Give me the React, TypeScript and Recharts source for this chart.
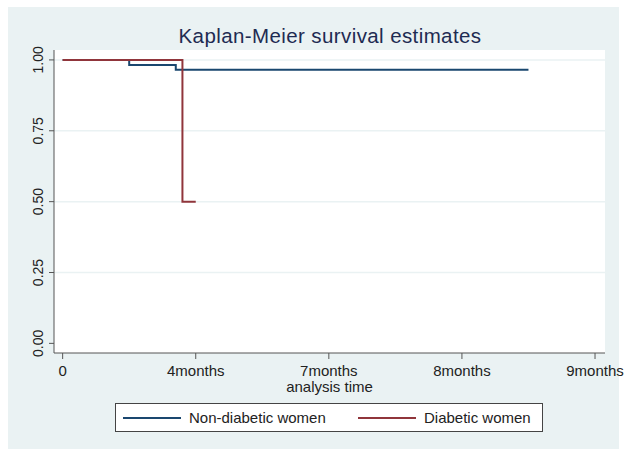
import React from 'react'
import { LineChart, Line, XAxis, YAxis, ReferenceArea, ReferenceLine, Legend } from 'recharts'

// analysis time in tick units (0 = start, 1 = "4months", ...)
const nonDiabeticTime = [0, 0.5, 0.85, 3.5]
const nonDiabeticSurv = [1, 0.982, 0.965, 0.965]
const diabeticTime = [0, 0.9, 1.0]
const diabeticSurv = [1, 0.5, 0.5]

const xTicks = [0, 1, 2, 3, 4]
const xTickLabels = ['0', '4months', '7months', '8months', '9months']
const yTicks = [0, 0.25, 0.5, 0.75, 1]
const gridValues = [0.25, 0.5, 0.75, 1]
const seriesNames = ['Non-diabetic women', 'Diabetic women']
const seriesColors = ['#1a476f', '#90353b']

const X_DOMAIN: [number, number] = [-0.065, 4.075]
const Y_DOMAIN: [number, number] = [-0.034, 1.035]

const nonDiabetic = nonDiabeticTime.map((t, i) => ({ t, s: nonDiabeticSurv[i] }))
const diabetic = diabeticTime.map((t, i) => ({ t, s: diabeticSurv[i] }))

const FONT = '"Liberation Sans", Arial, sans-serif'

function YTick(props: any) {
  const { x, y, payload } = props
  const bx = x - 4
  return (
    <text x={bx} y={y} transform={`rotate(-90, ${bx}, ${y})`} textAnchor="middle" fill="#222" fontSize={14} fontFamily={FONT}>
      {Number(payload.value).toFixed(2)}
    </text>
  )
}

function XTick(props: any) {
  const { x, y, payload } = props
  return (
    <text x={x} y={y + 15} textAnchor="middle" fill="#222" fontSize={15} fontFamily={FONT}>
      {xTickLabels[xTicks.indexOf(payload.value)]}
    </text>
  )
}

function LegendBox() {
  const starts = [7, 242]
  return (
    <div style={{ position: 'relative', width: 426, height: 27, border: '1px solid #444', background: '#fff', fontFamily: FONT, fontSize: 15, color: '#222' }}>
      {seriesNames.map((name, i) => (
        <div key={name} style={{ position: 'absolute', left: starts[i], top: 0, height: 27, display: 'flex', alignItems: 'center', whiteSpace: 'nowrap' }}>
          <span style={{ display: 'inline-block', width: 58, height: 2, background: seriesColors[i], marginRight: 8 }} />
          <span>{name}</span>
        </div>
      ))}
    </div>
  )
}

export default function App() {
  return (
    <div style={{ position: 'relative', width: 624, height: 449 }}>
      <style>{'html, body{overflow:hidden; margin:0}'}</style>
      <div style={{ position: 'absolute', left: 8, top: 7, width: 611, height: 442, background: '#eaf2f3' }} />
      <div style={{ position: 'absolute', left: 8, top: 26, width: 644, textAlign: 'center', fontFamily: FONT, fontSize: 20.5, lineHeight: '20px', color: '#1e2b52', letterSpacing: 0.4 }}>
        Kaplan-Meier survival estimates
      </div>
      <div style={{ position: 'absolute', left: 8, top: 8, width: 616, height: 441 }}>
        <LineChart width={616} height={441} margin={{ top: 42, right: 19, bottom: 66, left: 16 }}>
          <XAxis
            type="number"
            dataKey="t"
            domain={X_DOMAIN}
            ticks={xTicks}
            allowDataOverflow
            height={30}
            tickSize={6}
            stroke="#555"
            tick={<XTick />}
            label={{ value: 'analysis time', position: 'bottom', offset: -2, fill: '#222', fontSize: 15, fontFamily: FONT }}
          />
          <YAxis
            type="number"
            dataKey="s"
            domain={Y_DOMAIN}
            ticks={yTicks}
            allowDataOverflow
            width={30}
            tickSize={5}
            stroke="#555"
            tick={<YTick />}
          />
          <ReferenceArea x1={X_DOMAIN[0]} x2={X_DOMAIN[1]} y1={Y_DOMAIN[0]} y2={Y_DOMAIN[1]} fill="#ffffff" fillOpacity={1} stroke="none" />
          {gridValues.map((v) => (
            <ReferenceLine key={v} y={v} stroke="#eaf2f3" strokeWidth={1.5} />
          ))}
          <Line data={nonDiabetic} dataKey="s" name={seriesNames[0]} type="stepAfter" stroke={seriesColors[0]} strokeWidth={2} dot={false} isAnimationActive={false} />
          <Line data={diabetic} dataKey="s" name={seriesNames[1]} type="stepAfter" stroke={seriesColors[1]} strokeWidth={2} dot={false} isAnimationActive={false} />
          <Legend
            layout="vertical"
            align="center"
            verticalAlign="middle"
            content={<LegendBox />}
            wrapperStyle={{ left: 107, top: 395, width: 428, height: 29 }}
          />
        </LineChart>
      </div>
    </div>
  )
}
